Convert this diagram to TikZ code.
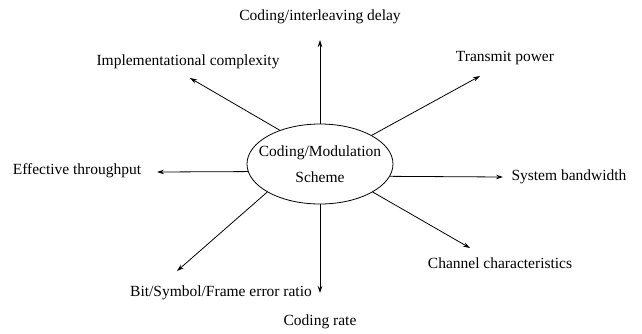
\documentclass[tikz,border=0pt]{standalone}
\usepackage{fontspec}
\setmainfont{Liberation Serif}
\usetikzlibrary{arrows.meta,shapes.geometric}
\begin{document}
\begin{tikzpicture}[x=1pt,y=-1pt,
  lbl/.style={inner sep=0pt,font=\fontsize{15.5}{18}\selectfont},
  conn/.style={line width=0.8pt,-{Stealth[length=7pt,width=4.5pt]}}]
\useasboundingbox (0,0) rectangle (642,333);
\node[ellipse,draw,line width=0.8pt,minimum width=146pt,minimum height=80pt,inner sep=0pt] (e) at (320,164) {};
\node[lbl,align=center] (eT) at (e.center) {Coding/Modulation\\[8pt]Scheme};
% tips
\coordinate (tU) at (320,40);
\coordinate (tUR) at (480,76);
\coordinate (tR) at (503,177);
\coordinate (tLR) at (470,248);
\coordinate (tD) at (320,293);
\coordinate (tLL) at (177,271);
\coordinate (tL) at (157,172);
\coordinate (tUL) at (190,78);
\draw[conn] (e.north) -- (tU);
\draw[conn] (e.29) -- (tUR);
\draw[conn] (e.-10) -- (tR);
\draw[conn] (e.-28) -- (tLR);
\draw[conn] (e.south) -- (tD);
\draw[conn] (e.208) -- (tLL);
\draw[conn] (e.186) -- (tL);
\draw[conn] (e.140) -- (tUL);
% labels
\node[lbl] (lU) at (320,17) {Coding/interleaving delay};
\node[lbl] (lUR) at (505,58) {Transmit power};
\node[lbl] (lR) at (569,177) {System bandwidth};
\node[lbl] (lLR) at (500,263) {Channel characteristics};
\node[lbl] (lD) at (320,322) {Coding rate};
\node[lbl] (lLL) at (221,293) {Bit/Symbol/Frame error ratio};
\node[lbl] (lL) at (77,171) {Effective throughput};
\node[lbl] (lUL) at (188,62) {Implementational complexity};
\end{tikzpicture}
\end{document}
